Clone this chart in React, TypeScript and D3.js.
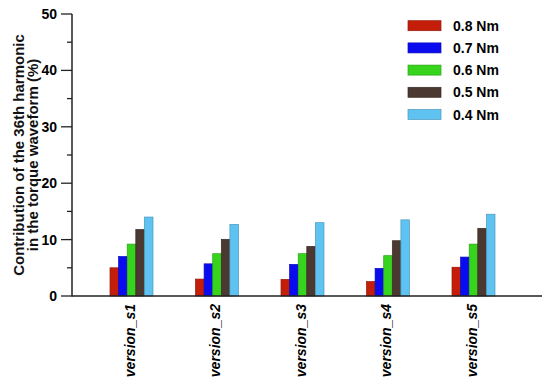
import { useEffect, useRef } from 'react';
import * as d3 from 'd3';

const versions = ['version_s1', 'version_s2', 'version_s3', 'version_s4', 'version_s5'];
const torques = ['0.8 Nm', '0.7 Nm', '0.6 Nm', '0.5 Nm', '0.4 Nm'];
const colors = ['#c41e0a', '#0b0bef', '#36d41c', '#4b3830', '#5fc3f2'];

// contribution (%) per version, one array per torque level
const values08 = [5.0, 3.0, 2.95, 2.55, 5.1];
const values07 = [7.0, 5.7, 5.6, 4.9, 6.9];
const values06 = [9.2, 7.5, 7.5, 7.15, 9.2];
const values05 = [11.8, 10.05, 8.8, 9.8, 12.0];
const values04 = [14.0, 12.7, 13.0, 13.5, 14.5];
const seriesValues = [values08, values07, values06, values05, values04];

const yTicks = [0, 10, 20, 30, 40, 50];
const yMinorTicks = [5, 15, 25, 35, 45];

const App = () => {
    const svgRef = useRef<SVGSVGElement>(null);

    useEffect(() => {
        if (!svgRef.current) return;
        const svg = d3.select(svgRef.current);
        svg.selectAll('*').remove();

        const font = '"Liberation Sans", Arial, sans-serif';
        const axisX = 72;
        const baseY = 296;

        const y = d3.scaleLinear().domain([0, 50]).range([baseY, 14]);
        const x0 = d3.scaleBand<string>().domain(versions).range([88.75, 516.25]);
        const groupW = 43;
        const x1 = d3.scaleBand<string>().domain(torques).range([0, groupW]);

        // bars
        versions.forEach((v, vi) => {
            const gx = (x0(v) ?? 0) + (x0.bandwidth() - groupW) / 2;
            torques.forEach((t, ti) => {
                const val = seriesValues[ti][vi];
                svg.append('rect')
                    .attr('x', gx + (x1(t) ?? 0))
                    .attr('y', y(val))
                    .attr('width', x1.bandwidth())
                    .attr('height', baseY - y(val))
                    .attr('fill', colors[ti])
                    .attr('stroke', d3.color(colors[ti])!.darker(0.7).toString())
                    .attr('stroke-width', 0.7);
            });
        });

        // y axis
        svg.append('line')
            .attr('x1', axisX).attr('x2', axisX)
            .attr('y1', y(50)).attr('y2', baseY + 0.5)
            .attr('stroke', '#222').attr('stroke-width', 1.5);
        yTicks.forEach(t => {
            svg.append('line')
                .attr('x1', axisX - 11).attr('x2', axisX)
                .attr('y1', y(t)).attr('y2', y(t))
                .attr('stroke', '#222').attr('stroke-width', 1.3);
            svg.append('text')
                .attr('x', axisX - 15)
                .attr('y', y(t))
                .attr('dy', '0.36em')
                .attr('text-anchor', 'end')
                .style('font-family', font)
                .style('font-weight', 'bold')
                .style('font-size', '14px')
                .text(t);
        });
        yMinorTicks.forEach(t => {
            svg.append('line')
                .attr('x1', axisX - 5).attr('x2', axisX)
                .attr('y1', y(t)).attr('y2', y(t))
                .attr('stroke', '#222').attr('stroke-width', 1.3);
        });

        // x axis
        svg.append('line')
            .attr('x1', axisX).attr('x2', 542)
            .attr('y1', baseY).attr('y2', baseY)
            .attr('stroke', '#222').attr('stroke-width', 1.5);

        versions.forEach(v => {
            const cx = (x0(v) ?? 0) + x0.bandwidth() / 2;
            svg.append('text')
                .attr('transform', `translate(${cx + 3},${baseY + 8}) rotate(-90)`)
                .attr('text-anchor', 'end')
                .style('font-family', font)
                .style('font-weight', 'bold')
                .style('font-style', 'italic')
                .style('font-size', '14px')
                .text(v);
        });

        // y label
        const yl = svg.append('text')
            .attr('transform', `translate(23.5,${(y(50) + baseY) / 2}) rotate(-90)`)
            .attr('text-anchor', 'middle')
            .style('font-family', font)
            .style('font-weight', 'bold')
            .style('font-size', '15px')
            .style('fill', '#111');
        yl.append('tspan').attr('x', 0).attr('dy', 0).text('Contribution of the 36th harmonic');
        yl.append('tspan').attr('x', 0).attr('dy', 14.5).text('in the torque waveform (%)');

        // legend
        torques.forEach((t, i) => {
            const cy = 25.7 + i * 22.2;
            svg.append('rect')
                .attr('x', 408).attr('y', cy - 5)
                .attr('width', 33).attr('height', 10)
                .attr('fill', colors[i])
                .attr('stroke', d3.color(colors[i])!.darker(0.7).toString())
                .attr('stroke-width', 0.7);
            svg.append('text')
                .attr('x', 453).attr('y', cy)
                .attr('dy', '0.36em')
                .style('font-family', font)
                .style('font-weight', 'bold')
                .style('font-size', '14px')
                .text(t);
        });
    }, []);

    return (
        <svg ref={svgRef} width={550} height={392}
            style={{ position: 'absolute', left: 0, top: 0, background: '#fff' }} />
    );
};

export default App;
